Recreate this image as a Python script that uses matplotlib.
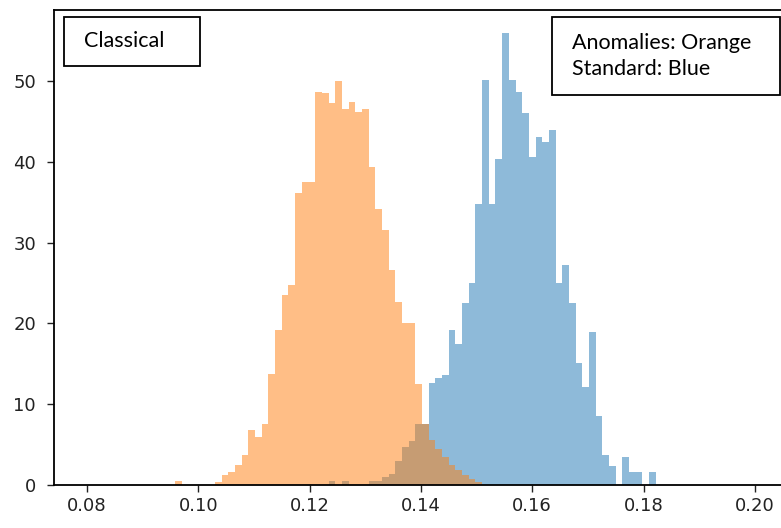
import numpy as np
import matplotlib
matplotlib.use("Agg")
import matplotlib.pyplot as plt
from matplotlib.patches import Rectangle

# bins shared by both histograms (density values)
bin_width = 0.0012
first_edge = 0.0958

# Anomalies (orange), one value per bin from first_edge
anomalies = [0.5, 0, 0, 0, 0, 0, 0.4, 1.2, 1.6, 2.5,
             3.7, 6.8, 6.0, 7.6, 13.7, 19.2, 23.5, 24.8, 36.1, 37.5,
             37.5, 48.7, 48.5, 47.3, 50.0, 46.6, 47.4, 46.2, 46.6, 39.4,
             34.2, 31.6, 26.6, 22.7, 20.0, 20.0, 12.5, 7.6, 5.6, 4.5,
             3.5, 2.5, 1.8, 1.2, 0.8, 0.4]

# Standard (blue), starts this many bins after first_edge
standard_offset = 23
standard = [0.5, 0, 0.5, 0, 0, 0, 0.5, 0.5, 1.0, 1.3,
            3.0, 4.7, 5.5, 7.6, 7.6, 12.6, 13.2, 13.6, 19.2, 17.4,
            22.5, 25.0, 34.8, 50.1, 34.8, 40.4, 55.9, 50.1, 48.7, 46.0,
            40.6, 43.1, 42.5, 43.9, 25.0, 27.2, 22.5, 15.1, 12.1, 18.9,
            8.5, 3.7, 2.3, 0, 3.5, 1.6, 1.6, 0, 1.6]

xticks = [0.08, 0.10, 0.12, 0.14, 0.16, 0.18, 0.20]
yticks = [0, 10, 20, 30, 40, 50]

W, H = 781, 528
fig = plt.figure(figsize=(W / 100, H / 100), dpi=100)
ax = fig.add_axes([54 / W, 43 / H, 737 / W, 475 / H])

o_edges = first_edge + bin_width * np.arange(len(anomalies) + 1)
s_edges = first_edge + bin_width * (standard_offset + np.arange(len(standard) + 1))

ax.hist(s_edges[:-1] + bin_width / 2, bins=s_edges, weights=standard,
        color="C0", alpha=0.5)
ax.hist(o_edges[:-1] + bin_width / 2, bins=o_edges, weights=anomalies,
        color="C1", alpha=0.5)

ax.set_xlim(0.07407, 0.2065)
ax.set_ylim(0, 58.8)
ax.set_xticks(xticks)
ax.set_xticklabels([f"{t:.2f}" for t in xticks])
ax.set_yticks(yticks)
ax.tick_params(labelsize=13, length=5, width=1, colors="#222222")
ax.tick_params(axis="y", pad=8)
for sp in ax.spines.values():
    sp.set_linewidth(1.3)

# annotation boxes laid over the plot
fig.add_artist(Rectangle((64 / W, 1 - 66 / H), 136 / W, 49 / H,
                         transform=fig.transFigure, fill=False, lw=1.3, ec="black"))
fig.text(84 / W, 1 - 41 / H, "Classical", family="Lato", fontsize=15.5,
         va="center", ha="left")

fig.add_artist(Rectangle((552 / W, 1 - 95 / H), 228 / W, 78 / H,
                         transform=fig.transFigure, fill=False, lw=1.3, ec="black"))
fig.text(572 / W, 1 - 56 / H, "Anomalies: Orange\nStandard: Blue", family="Lato",
         fontsize=15.5, va="center", ha="left", linespacing=1.35)

fig.savefig("out.png", dpi=100)
